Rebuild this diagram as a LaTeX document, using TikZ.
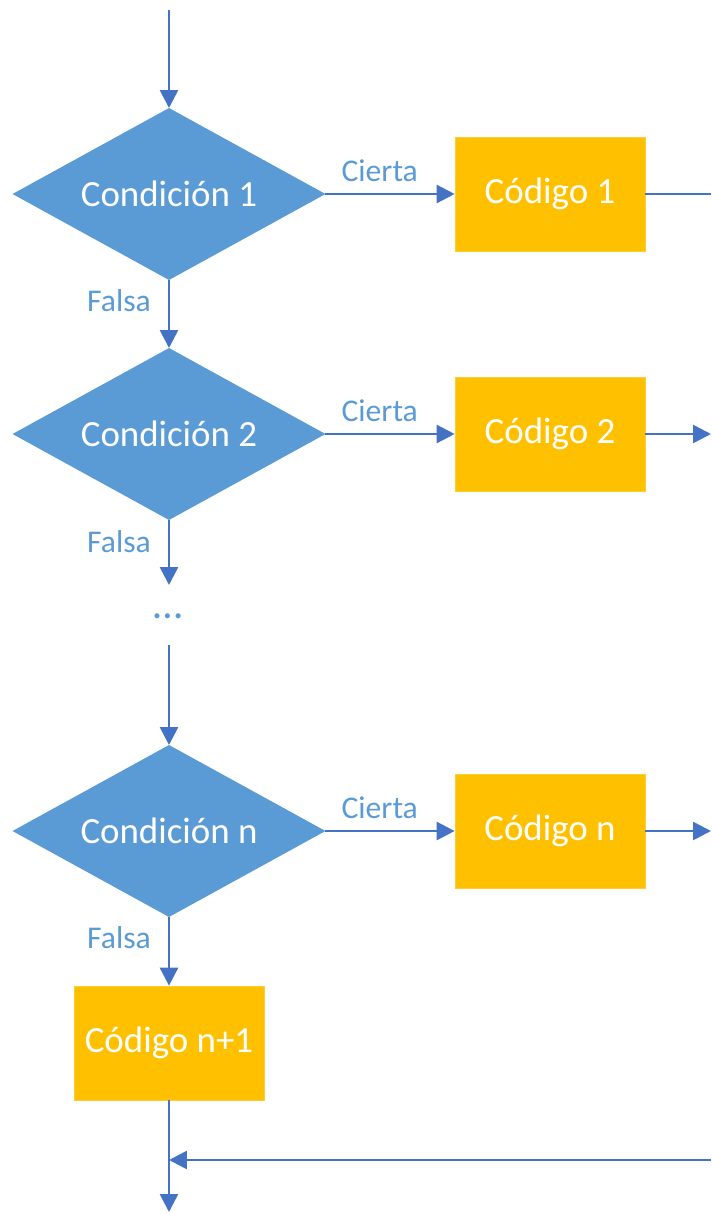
\documentclass[tikz,border=0pt]{standalone}
\usepackage{fontspec}
\setmainfont{Carlito}
\usetikzlibrary{shapes.geometric,arrows.meta}
\definecolor{condblue}{HTML}{5B9BD5}
\definecolor{codeyellow}{HTML}{FFC000}
\definecolor{linkblue}{HTML}{4472C4}
\definecolor{labelblue}{HTML}{5B9BD5}
\tikzset{
  cond/.style={diamond, fill=condblue, draw=none, inner sep=0pt, outer sep=0pt, aspect=1.82, minimum width=6.26cm, minimum height=3.44cm, text=white, font=\fontsize{21}{24}\selectfont},
  codebox/.style={rectangle, fill=codeyellow, draw=codeyellow!80!white, line width=0.4pt, minimum width=3.8cm, minimum height=2.28cm, inner sep=0pt, text=white, font=\fontsize{21}{24}\selectfont},
  lbl/.style={text=labelblue, font=\fontsize{18}{21}\selectfont, inner sep=0pt},
  link/.style={draw=linkblue, line width=1.5pt},
  arr/.style={link, -{Triangle[length=0.36cm,width=0.36cm]}},
}
\begin{document}
\begin{tikzpicture}[x=0.02cm,y=-0.02cm]
\useasboundingbox (0,0) rectangle (711,1214);
% nodes
\node[cond] (c1) at (169,194) {Condición 1};
\node[cond] (c2) at (169,434) {Condición 2};
\node[cond] (cn) at (169,831) {Condición n};
\node[codebox] (k1) at (550,194) {Código 1};
\node[codebox] (k2) at (550,434) {Código 2};
\node[codebox] (kn) at (550,831) {Código n};
\node[codebox] (kn1) at (169,1043) {Código n+1};
\node[lbl, font=\fontsize{24}{26}\selectfont] (dots) at (168,616) {…};
% coordinates
\coordinate (start) at (169,10);
\coordinate (e1) at (711,194);
\coordinate (e2) at (711,434);
\coordinate (en) at (711,831);
\coordinate (f2) at (169,585);
\coordinate (fn) at (169,645);
\coordinate (ret) at (711,1160);
\coordinate (join) at (169,1160);
\coordinate (end) at (169,1212);
% connectors
\draw[arr] (start) -- (c1.north);
\draw[arr] (c1.east) -- node[lbl, above=6pt, pos=0.42] {Cierta} (k1.west);
\draw[arr] (c2.east) -- node[lbl, above=6pt, pos=0.42] {Cierta} (k2.west);
\draw[arr] (cn.east) -- node[lbl, above=6pt, pos=0.42] {Cierta} (kn.west);
\draw[link] (k1.east) -- (e1);
\draw[arr] (k2.east) -- (e2);
\draw[arr] (kn.east) -- (en);
\draw[arr] (c1.south) -- (c2.north);
\draw[arr] (c2.south) -- (f2);
\draw[arr] (fn) -- (cn.north);
\draw[arr] (cn.south) -- (kn1.north);
\draw[arr] (kn1.south) -- (end);
\draw[arr] (ret) -- (join);
\node[lbl] at (119,301) {Falsa};
\node[lbl] at (119,542) {Falsa};
\node[lbl] at (119,938) {Falsa};
\end{tikzpicture}
\end{document}
